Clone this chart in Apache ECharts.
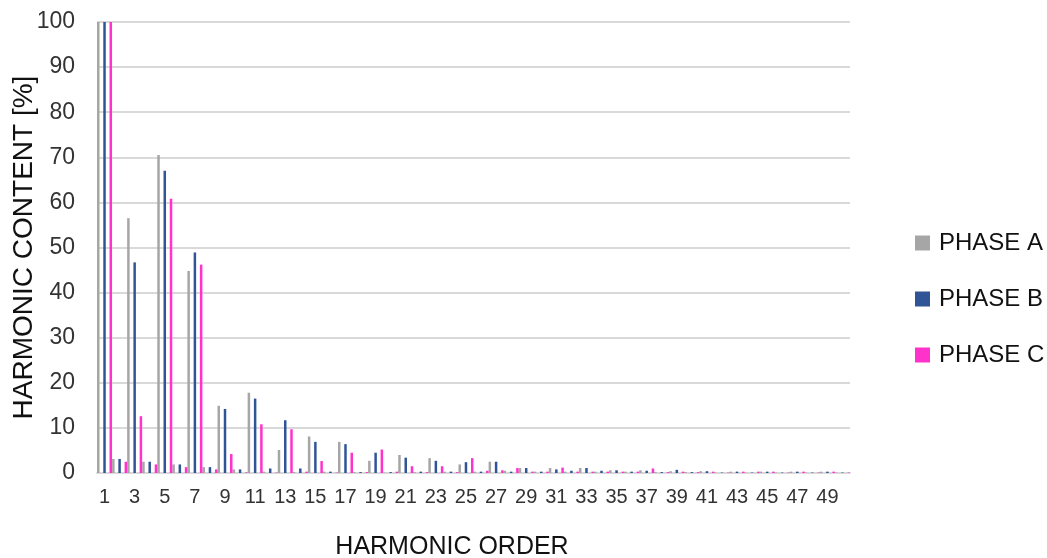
<!DOCTYPE html>
<html>
<head>
<meta charset="utf-8">
<script src="https://cdn.jsdelivr.net/npm/echarts@6/dist/echarts.min.js"></script>
<style>
  html, body { margin: 0; padding: 0; background: #fff; }
  #harmonic_chart { width: 1047px; height: 558px; }
</style>
</head>
<body>
<!-- harmonic content per phase -->
<div id="harmonic_chart"></div>
<script>
// harmonic orders 1..50
const orders = []
for (let i = 1; i <= 50; i++) orders.push(String(i))

const phaseA = [100, 3.1, 56.5, 2.5, 70.5, 1.9, 44.8, 1.3, 14.9, 0.8,
  17.8, 0.3, 5.1, 0.2, 8.1, 0.3, 6.9, 0.2, 2.7, 0.1,
  4.0, 0.2, 3.3, 0.3, 1.9, 0.3, 2.5, 0.5, 1.1, 0.3,
  1.1, 0.3, 1.1, 0.3, 0.6, 0.3, 0.6, 0.2, 0.4, 0.2,
  0.4, 0.1, 0.3, 0.1, 0.3, 0.1, 0.3, 0.1, 0.3, 0.1]
const phaseB = [100, 3.1, 46.7, 2.5, 67, 1.9, 48.9, 1.3, 14.2, 0.8,
  16.5, 1.0, 11.7, 1.0, 6.9, 0.3, 6.4, 0.2, 4.5, 0.2,
  3.4, 0.3, 2.7, 0.3, 2.4, 0.3, 2.5, 0.3, 1.1, 0.3,
  0.8, 0.5, 1.1, 0.5, 0.6, 0.3, 0.5, 0.2, 0.7, 0.2,
  0.4, 0.1, 0.3, 0.1, 0.3, 0.1, 0.3, 0.1, 0.3, 0.1]
const phaseC = [100, 2.5, 12.6, 1.9, 60.8, 1.3, 46.2, 0.8, 4.2, 0.15,
  10.8, 0.1, 9.7, 0.3, 2.65, 0.1, 4.5, 0.2, 5.2, 0.3,
  1.5, 0.2, 1.5, 0.2, 3.3, 0.5, 0.6, 1.1, 0.3, 0.3,
  1.2, 0.3, 0.3, 0.3, 0.3, 0.3, 1.0, 0.2, 0.3, 0.2,
  0.3, 0.1, 0.3, 0.3, 0.3, 0.1, 0.3, 0.1, 0.3, 0.1]

const names = ['PHASE A', 'PHASE B', 'PHASE C']
const colors = ['#a6a6a6', '#2f5597', '#ff33cc']

const font = 'Liberation Sans, Arial, sans-serif'

const myChart = echarts.init(document.getElementById('harmonic_chart'))
const option = {
  animation: false,
  grid: {
    left: 97,
    right: 197,
    top: 22,
    bottom: 85,
    containLabel: false,
    outerBoundsMode: 'none'
  },
  legend: {
    orient: 'vertical',
    left: 910,
    top: 226,
    itemWidth: 15,
    itemHeight: 15,
    itemGap: 32,
    icon: 'rect',
    data: names,
    textStyle: {
      color: '#111',
      fontSize: 24,
      fontFamily: font,
      lineHeight: 24,
      padding: [0, 0, 0, 4]
    }
  },
  xAxis: {
    type: 'category',
    data: orders,
    name: 'HARMONIC ORDER',
    nameLocation: 'middle',
    nameGap: 62,
    nameMoveOverlap: false,
    nameTextStyle: {
      color: '#111',
      fontSize: 25,
      fontFamily: font,
      padding: [0, 43, 0, 0]
    },
    axisLabel: {
      interval: 1,
      color: '#333',
      fontSize: 20,
      fontFamily: font,
      margin: 14
    },
    axisLine: {
      lineStyle: { color: '#d9d9d9', width: 2 }
    },
    axisTick: { show: false }
  },
  yAxis: {
    type: 'value',
    min: 0,
    max: 100,
    interval: 10,
    name: 'HARMONIC CONTENT [%]',
    nameLocation: 'middle',
    nameGap: 59,
    nameMoveOverlap: false,
    nameTextStyle: {
      color: '#111',
      fontSize: 28,
      fontFamily: font
    },
    axisLabel: {
      color: '#333',
      fontSize: 23,
      fontFamily: font,
      margin: 22
    },
    axisLine: {
      show: true,
      lineStyle: { color: '#d9d9d9', width: 1 }
    },
    axisTick: { show: false },
    splitLine: {
      lineStyle: { color: '#d9d9d9', width: 2 }
    }
  },
  series: [phaseA, phaseB, phaseC].map((d, i) => ({
    name: names[i],
    type: 'bar',
    data: d,
    barWidth: 2.5,
    barGap: '150%',
    itemStyle: { color: colors[i] }
  }))
}
myChart.setOption(option)
</script>
</body>
</html>
